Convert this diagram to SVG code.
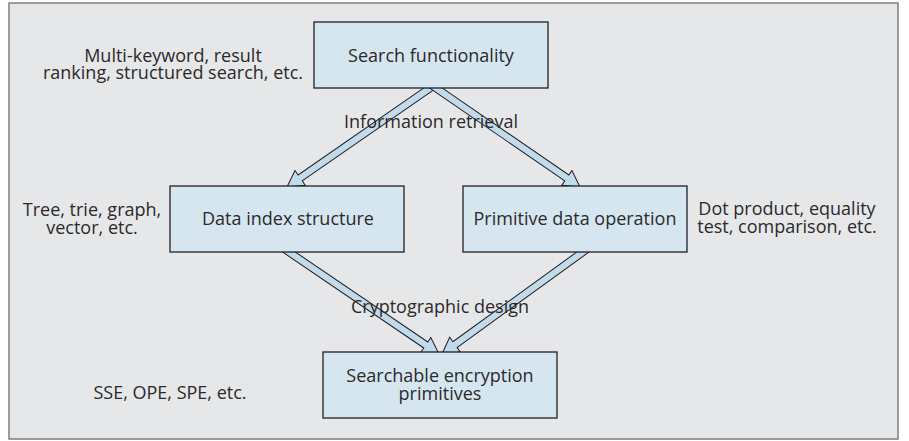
<svg xmlns="http://www.w3.org/2000/svg" xmlns:xlink="http://www.w3.org/1999/xlink" width="909" height="441" viewBox="0 0 909 441">
<style>
.t{font-family:"Open Sans","Noto Sans","Liberation Sans",sans-serif;font-size:18px;fill:#2b2a2a;text-anchor:middle}
.box{fill:#d6e6f1;stroke:#231f20;stroke-width:1.3}
.arr{fill:#c2dbec;stroke:#231f20;stroke-width:1}
</style>
<defs>
<path id="arrow" d="M0,0 L-16,-9 L-16,-3.6 L-190,-3.6 L-190,3.6 L-16,3.6 L-16,9 Z"/>
</defs>
<rect x="0" y="0" width="909" height="441" fill="#ffffff"/>
<rect x="9" y="3" width="889" height="436" fill="#e6e7e9" stroke="#7f7f7f" stroke-width="1.5"/>
<g id="connectors">
<use xlink:href="#arrow" class="arr" transform="translate(287,187) rotate(145.3)"/>
<use xlink:href="#arrow" class="arr" transform="translate(580,187) rotate(34.5)"/>
<use xlink:href="#arrow" class="arr" transform="translate(439,354) rotate(34.2)"/>
<use xlink:href="#arrow" class="arr" transform="translate(442,354) rotate(144.1)"/>
</g>
<g id="search">
<rect class="box" x="314" y="22" width="234" height="66"/>
<text class="t" x="431" y="62">Search functionality</text>
</g>
<g id="dataindex">
<rect class="box" x="170" y="186" width="234" height="66"/>
<text class="t" x="288" y="225">Data index structure</text>
</g>
<g id="primitive">
<rect class="box" x="463" y="186" width="224" height="66"/>
<text class="t" x="575" y="225">Primitive data operation</text>
</g>
<g id="sep">
<rect class="box" x="323" y="352" width="234" height="66"/>
<text class="t" x="440" y="382">Searchable encryption</text>
<text class="t" x="440" y="400">primitives</text>
</g>
<g id="labels">
<text class="t" x="431" y="128">Information retrieval</text>
<text class="t" x="440" y="313">Cryptographic design</text>
<text class="t" x="173" y="62">Multi-keyword, result</text>
<text class="t" x="173" y="79">ranking, structured search, etc.</text>
<text class="t" x="92" y="216">Tree, trie, graph,</text>
<text class="t" x="92" y="234">vector, etc.</text>
<text class="t" x="787" y="215">Dot product, equality</text>
<text class="t" x="787" y="233">test, comparison, etc.</text>
<text class="t" x="170" y="399">SSE, OPE, SPE, etc.</text>
</g>
</svg>
